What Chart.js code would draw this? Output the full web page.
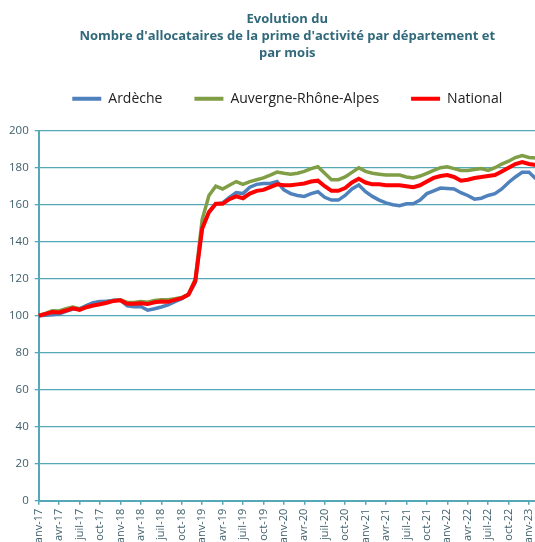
<!DOCTYPE html>
<html>
<head>
<meta charset="utf-8">
<script src="https://cdn.jsdelivr.net/npm/chart.js@4.4.0/dist/chart.umd.min.js"></script>
<style>
html,body{margin:0;padding:0;background:#fff;overflow:hidden;}
#wrap{position:absolute;left:0;top:0;width:553px;height:550px;}
</style>
</head>
<body>
<div id="wrap"><canvas id="c" width="553" height="550"></canvas></div>
<script>
const months = ['janv','févr','mars','avr','mai','juin','juil','août','sept','oct','nov','déc'];
const labels = [];
for (let y = 17; y <= 23; y++) {
  for (let m = 0; m < 12; m++) {
    if (y === 23 && m > 1) break;
    labels.push(months[m] + '-' + y);
  }
}
const ardeche = [
  100,100.2,100.5,100.9,102.3,103.6,103.6,105.5,107,107.7,107.7,108.3,
  108.4,105.4,104.8,105,103,103.8,104.7,105.9,107.6,109.2,111.3,118,
  147.5,156,160.5,161,164,166.5,166,169.5,171,171.5,171.5,172.5,
  168,166,165,164.5,166,167,164,162.5,162.5,165,168.5,170.7,
  167,164.5,162.5,161,160,159.5,160.5,160.5,162.5,166,167.5,169,
  168.8,168.5,166.5,165,163,163.5,165,166,168.5,172,175,177.5,
  177.6,174
];
const auvergne = [
  100,101.3,102.7,102.6,103.8,104.7,103.8,105.3,106.8,107.4,107.8,108.3,
  108.6,107.2,107.2,107.7,107.3,108.3,108.6,108.6,109.2,109.9,111.5,120,
  152,165,170,168.5,170.5,172.5,171,172.5,173.5,174.5,176,177.6,
  177,176.5,177,178,179.5,180.5,177,173.5,173.5,175,177.5,180,
  178,177,176.5,176,176,176,175,174.5,175.5,177,178.5,180,
  180.5,179.5,178.5,178.5,179,179.5,178.5,180,182,183.5,185.5,186.5,
  185.5,185.3
];
const national = [
  100,101,102,101.8,102.8,104,103.2,104.6,105.5,106.2,107,108,
  108.3,106.5,106.5,106.8,106.3,107.3,107.7,107.5,108.6,109.5,111.5,119,
  147,156,160.5,160.5,163,164.5,163.5,166,167.5,168,169.5,171,
  170.5,170.5,171,171.5,172.5,173,170,167.5,167.5,169,172,174,
  172,171,171,170.5,170.5,170.5,170,169.5,170.5,172.5,174.5,175.5,
  176,175,173,173.5,174.4,175,175.5,176,178,180,182,183,
  182,181.5
];
const titleLines = ['Evolution du', "Nombre d'allocataires de la prime d'activité par département et", 'par mois'];
const yTicks = [0,20,40,60,80,100,120,140,160,180,200];

const axisColor = '#55a9b7';
const textColor = '#40606c';
const FONT = 'Open Sans';

const legendGap = {
  id: 'legendGap',
  beforeInit(chart) {
    const fit = chart.legend.fit;
    chart.legend.fit = function () { fit.bind(chart.legend)(); this.height += 15; };
  }
};

new Chart(document.getElementById('c'), {
  type: 'line',
  data: {
    labels: labels,
    datasets: [
      {label:'Ardèche', data: ardeche, borderColor:'#4f81bd', backgroundColor:'#4f81bd', borderWidth:3.5, pointRadius:0, tension:0, order:1},
      {label:'Auvergne-Rhône-Alpes', data: auvergne, borderColor:'#7f9e45', backgroundColor:'#7f9e45', borderWidth:3.5, pointRadius:0, tension:0, order:2},
      {label:'National', data: national, borderColor:'#ff0000', backgroundColor:'#ff0000', borderWidth:4, pointRadius:0, tension:0, order:0}
    ]
  },
  plugins: [legendGap],
  options: {
    responsive: false,
    animation: false,
    devicePixelRatio: 1,
    layout: {padding: {left: 3, right: 0, top: 0, bottom: 0}},
    plugins: {
      title: {
        display: true, text: titleLines, fullSize: false,
        color: '#31697a', font: {family: FONT, size: 13, weight: 'bold', lineHeight: 1.3},
        padding: {top: 11, bottom: -2}
      },
      legend: {
        display: true, fullSize: false,
        labels: {
          color: '#222', font: {family: FONT, size: 14},
          boxWidth: 29, boxHeight: 4, padding: 32,
          sort: (a, b) => a.datasetIndex - b.datasetIndex,
          generateLabels: (chart) => {
            const items = Chart.defaults.plugins.legend.labels.generateLabels(chart);
            items.forEach(it => { it.lineWidth = 0; });
            return items;
          }
        }
      },
      tooltip: {enabled: false}
    },
    scales: {
      x: {
        type: 'category',
        offset: false,
        border: {display: true, color: axisColor, width: 2},
        grid: {
          drawOnChartArea: false, drawTicks: true, tickLength: 4,
          tickColor: (ctx) => (ctx.index % 3 === 0 ? axisColor : 'rgba(0,0,0,0)'),
          lineWidth: 1.5
        },
        ticks: {
          autoSkip: false, maxRotation: 90, minRotation: 90, padding: 4,
          color: textColor, font: {family: FONT, size: 11},
          callback: function(v, i) { return i % 3 === 0 ? labels[i] : ''; }
        }
      },
      y: {
        min: 0, max: 200,
        afterBuildTicks: (axis) => { axis.ticks = yTicks.map(v => ({value: v})); },
        border: {display: true, color: axisColor, width: 2},
        grid: {
          color: (ctx) => (ctx.tick.value === 0 ? 'rgba(0,0,0,0)' : axisColor),
          lineWidth: 1.3, tickLength: 4, tickColor: axisColor,
          borderDash: [4, 3]
        },
        ticks: {color: textColor, font: {family: FONT, size: 11.5}, padding: 6}
      }
    }
  }
});
</script>
</body>
</html>
